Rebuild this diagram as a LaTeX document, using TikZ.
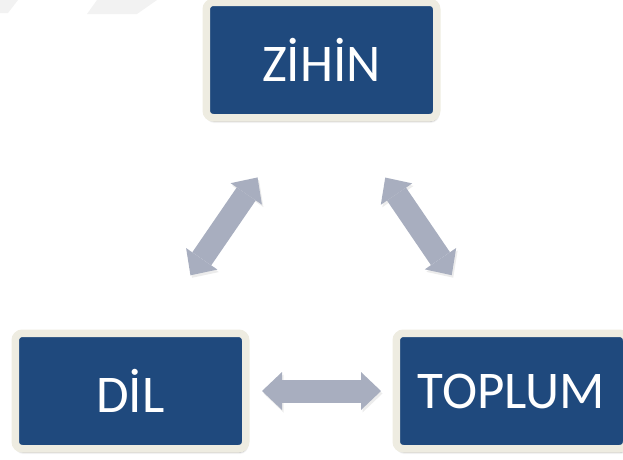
\documentclass[tikz,border=0pt]{standalone}
\usepackage{fontspec}
\setmainfont{Carlito}
\usepackage{tikz}
\usetikzlibrary{arrows.meta,shadows.blur}
\definecolor{boxblue}{HTML}{1F497D}
\definecolor{boxcream}{HTML}{EEECE1}
\definecolor{arrowgray}{RGB}{168,174,191}

\begin{document}
\begin{tikzpicture}[x=1pt,y=-1pt,
  concept/.style={draw=boxcream,fill=boxblue,line width=7.5pt,rounded corners=7pt,
    minimum width=230.5pt,minimum height=115.5pt,inner sep=0pt,text=white,
    font=\fontsize{53}{62}\selectfont,
    blur shadow={shadow xshift=1pt,shadow yshift=-3.5pt,shadow opacity=35,shadow blur steps=6}},
  blockarrow/.style={arrowgray,line width=23pt,
    {Triangle[line width=0pt,length=20pt,width=38pt]}-{Triangle[line width=0pt,length=20pt,width=38pt]},
    preaction={draw=black!60,opacity=.12,transform canvas={shift={(1.5pt,-2.5pt)}}}}]
\useasboundingbox (0,0) rectangle (623,459);
% faint marks top left
\fill[black!5] (97,0) -- (157,0) -- (137,14) -- (87,14) -- cycle;
\fill[black!5] (0,0) -- (18,0) -- (8,13) -- (0,13) -- cycle;
\node[concept] (zihin) at (321.5,60) {ZİHİN};
\node[concept] (dil) at (130.5,391) {DİL};
\node[concept] (toplum) at (511.5,391) {TOPLUM};
\draw[blockarrow,shorten <=67.8pt,shorten >=65.7pt] ([xshift=-25.6pt]zihin.south) -- ([xshift=22.8pt]dil.north);
\draw[blockarrow,shorten <=67.8pt,shorten >=65.7pt] ([xshift=25.6pt]zihin.south) -- ([xshift=-22.8pt]toplum.north);
\draw[blockarrow,shorten <=12.5pt,shorten >=11.5pt] (dil) -- (toplum);
\end{tikzpicture}
\end{document}
